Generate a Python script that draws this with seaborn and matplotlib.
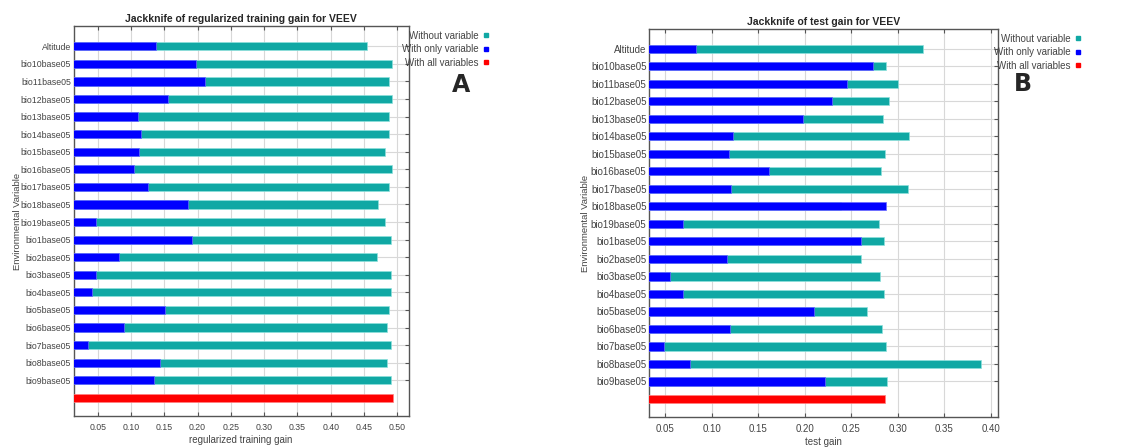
import numpy as np
import pandas as pd
import matplotlib
matplotlib.use("Agg")
import matplotlib.pyplot as plt
import seaborn as sns
from matplotlib.lines import Line2D

variables = ["Altitude", "bio10base05", "bio11base05", "bio12base05", "bio13base05",
             "bio14base05", "bio15base05", "bio16base05", "bio17base05", "bio18base05",
             "bio19base05", "bio1base05", "bio2base05", "bio3base05", "bio4base05",
             "bio5base05", "bio6base05", "bio7base05", "bio8base05", "bio9base05"]

# regularized training gain (panel A)
train_without = [0.454, 0.492, 0.487, 0.492, 0.487, 0.488, 0.481, 0.492, 0.487, 0.471,
                 0.482, 0.491, 0.470, 0.490, 0.490, 0.487, 0.484, 0.491, 0.485, 0.491]
train_only = [0.137, 0.197, 0.211, 0.155, 0.110, 0.115, 0.112, 0.105, 0.126, 0.186,
              0.047, 0.191, 0.082, 0.048, 0.042, 0.151, 0.090, 0.035, 0.144, 0.134]
train_all = 0.493

# test gain (panel B)
test_without = [0.327, 0.287, 0.300, 0.291, 0.284, 0.312, 0.286, 0.282, 0.311, 0.239,
                0.280, 0.285, 0.261, 0.281, 0.285, 0.267, 0.283, 0.287, 0.390, 0.288]
test_only = [0.083, 0.273, 0.245, 0.229, 0.198, 0.123, 0.119, 0.162, 0.121, 0.287,
             0.069, 0.260, 0.116, 0.055, 0.069, 0.210, 0.120, 0.049, 0.077, 0.222]
test_all = 0.286

train_ticks = [0.05, 0.10, 0.15, 0.20, 0.25, 0.30, 0.35, 0.40, 0.45, 0.50]
test_ticks = [0.05, 0.10, 0.15, 0.20, 0.25, 0.30, 0.35, 0.40]

TEAL = "#10a8a4"
BLUE = "#0000ff"
RED = "#ff0000"

sns.set_style("white")
plt.rcParams["font.family"] = ["Liberation Sans", "DejaVu Sans"]


def jackknife(ax, without, only, all_val, ticks, xlim, title, xlabel, fs, ylab_x):
    order = variables + [""]
    df = pd.DataFrame({"var": variables, "without": without, "only": only})
    sns.barplot(data=df, x="without", y="var", order=order, color=TEAL, width=0.47,
                saturation=1, edgecolor="#8fe0dc", linewidth=0.5, ax=ax, zorder=2)
    sns.barplot(data=df, x="only", y="var", order=order, color=BLUE, width=0.47,
                saturation=1, edgecolor="#6a6aff", linewidth=0.5, ax=ax, zorder=3)
    sns.barplot(x=[all_val], y=[""], order=order, color=RED, width=0.47,
                saturation=1, edgecolor="#ff8080", linewidth=0.5, ax=ax, zorder=3)
    ax.set_xlim(*xlim)
    ax.set_ylim(21.05, -1.15)
    ax.set_xticks(ticks)
    ax.set_xticklabels([f"{t:.2f}" for t in ticks], fontsize=fs, color="#444444")
    ax.set_yticks(range(len(variables)))
    ax.set_yticklabels(variables, fontsize=fs, color="#444444")
    ax.grid(True, color="#d8d8d8", linewidth=0.8, zorder=0)
    ax.set_axisbelow(True)
    ax.tick_params(axis="x", direction="in", top=True, bottom=True, length=3,
                   color="#555555", pad=5)
    ax.tick_params(axis="y", direction="in", left=False, right=True, length=3,
                   color="#555555", pad=2)
    for s in ax.spines.values():
        s.set_color("#555555")
        s.set_linewidth(1.0)
    ax.set_title(title, fontsize=7.5, fontweight="bold", pad=3)
    ax.set_xlabel(xlabel, fontsize=7, color="#444444", labelpad=2)
    ax.set_ylabel("Environmental Variable", fontsize=6.8, color="#444444")
    ax.yaxis.set_label_coords(ylab_x, 0.5)


fig = plt.figure(figsize=(11.21, 4.48), dpi=100)
axA = fig.add_axes([0.0657, 0.0708, 0.2989, 0.871])
axB = fig.add_axes([0.5792, 0.0685, 0.3108, 0.8675])

jackknife(axA, train_without, train_only, train_all, train_ticks, (0.014, 0.517),
          "Jackknife of regularized training gain for VEEV", "regularized training gain",
          6.3, -0.155)
jackknife(axB, test_without, test_only, test_all, test_ticks, (0.0328, 0.4075),
          "Jackknife of test gain for VEEV", "test gain", 7, -0.171)

handles = [Line2D([], [], marker="s", linestyle="", color=c, markersize=3)
           for c in (TEAL, BLUE, RED)]
names = ["Without variable", "With only variable", "With all variables"]
for anchor in ((494 / 1121, 1 - 26 / 448), (1086 / 1121, 1 - 29 / 448)):
    fig.legend(handles, names, loc="upper right", bbox_to_anchor=anchor,
               frameon=False, markerfirst=False, fontsize=7, handlelength=0.6,
               handletextpad=0.5, labelspacing=0.35, borderpad=0, labelcolor="#444444")

fig.text(461 / 1121, 1 - 85 / 448, "A", fontsize=17, fontweight="bold",
         ha="center", va="center", family="DejaVu Sans")
fig.text(1023 / 1121, 1 - 84 / 448, "B", fontsize=17, fontweight="bold",
         ha="center", va="center", family="DejaVu Sans")

fig.savefig("out.png", dpi=100)
